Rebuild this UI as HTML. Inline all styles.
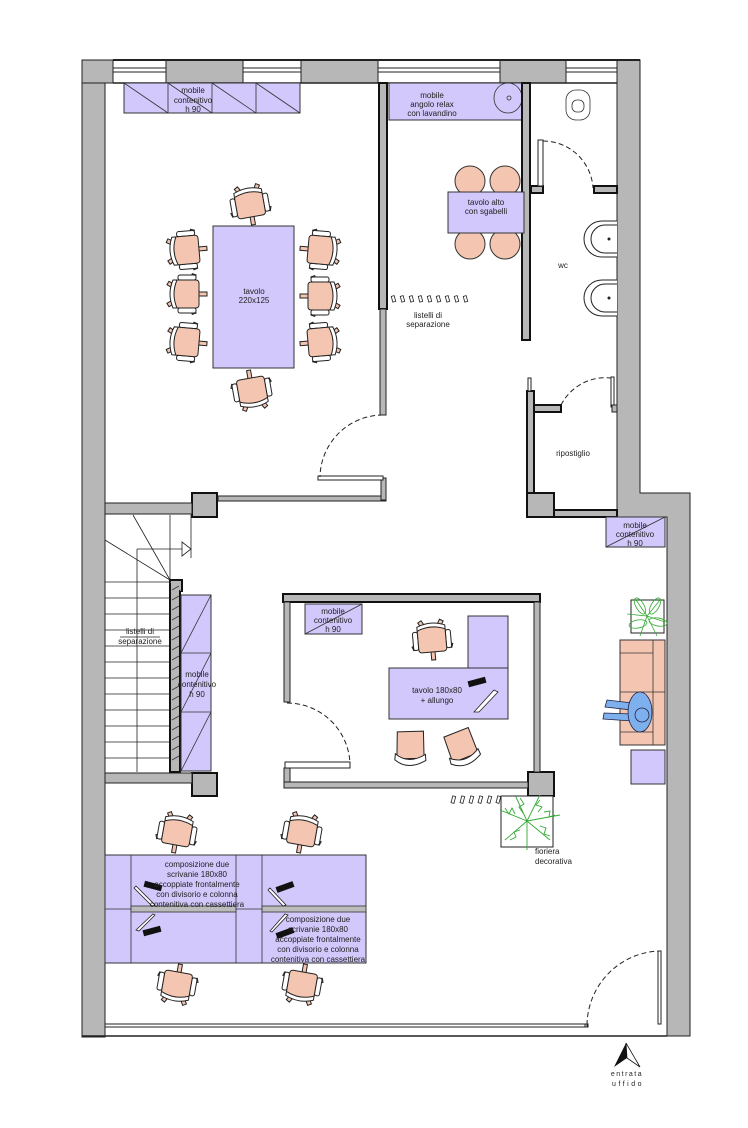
<!DOCTYPE html>
<html><head><meta charset="utf-8"><style>
html,body{margin:0;padding:0;background:#fff}
svg{display:block}
text{font-family:"Liberation Sans",sans-serif;font-size:8px;fill:#222}
</style></head><body>
<svg width="748" height="1128" viewBox="0 0 748 1128" xmlns="http://www.w3.org/2000/svg">
<defs>
<g id="ch">
 <g stroke="#222" stroke-width="1" fill="#f4c6b2">
  <rect x="-2" y="10" width="4" height="10"/>
  <rect x="-2" y="-22" width="4" height="8" transform="rotate(30)"/>
  <rect x="-2" y="-22" width="4" height="8" transform="rotate(-30)"/>
  <rect x="-2" y="12" width="4" height="9" transform="rotate(70)"/>
  <rect x="-2" y="12" width="4" height="9" transform="rotate(-70)"/>
  <rect x="-19" y="-9" width="5" height="18" rx="2" fill="#fff"/>
  <rect x="14" y="-9" width="5" height="18" rx="2" fill="#fff"/>
  <rect x="-14" y="-13" width="28" height="25" rx="3"/>
  <path d="M-14,-10 Q0,-16 14,-10 L14,-14 Q0,-20 -14,-14Z" fill="#fff"/>
 </g>
</g>
<g id="gc">
 <g stroke="#222" stroke-width="1" fill="#f4c6b2">
  <path d="M-14,-14 L12,-17 L15,10 L-12,13Z"/>
  <path d="M-14,8 Q0,18 16,6 L17,12 Q0,24 -14,14Z" fill="#fff"/>
 </g>
</g>
</defs>

<!-- outer walls -->
<g fill="#b7b7b7" stroke="#222" stroke-width="1">
 <rect x="82" y="60" width="23" height="977"/>
 <rect x="82" y="60" width="31" height="23"/>
 <rect x="166" y="60" width="77" height="23"/>
 <rect x="301" y="60" width="77" height="23"/>
 <rect x="500" y="60" width="66" height="23"/>
 <polygon points="617,60 640,60 640,493 690,493 690,1036 667,1036 667,517 617,517"/>
</g>
<g stroke="#222" stroke-width="1" fill="none">
 <line x1="113" y1="60" x2="640" y2="60" stroke-width="2"/>
 <line x1="113" y1="68" x2="166" y2="68"/><line x1="113" y1="72" x2="166" y2="72"/>
 <line x1="243" y1="68" x2="301" y2="68"/><line x1="243" y1="72" x2="301" y2="72"/>
 <line x1="378" y1="68" x2="500" y2="68"/><line x1="378" y1="72" x2="500" y2="72"/>
 <line x1="566" y1="68" x2="617" y2="68"/><line x1="566" y1="72" x2="617" y2="72"/>
 <line x1="113" y1="83" x2="617" y2="83" stroke-width="1.5"/>
 <line x1="82" y1="1036" x2="667" y2="1036" stroke-width="1.5"/>
 <rect x="105" y="1024" width="482" height="3" fill="#fff"/>
 <rect x="585" y="1024" width="3" height="3"/>
 <rect x="658" y="951" width="3" height="73" fill="#fff"/>
 <path d="M587,1025 A75,75 0 0 1 659,951" stroke-dasharray="5,3"/>
</g>

<!-- top cabinets -->
<g fill="#d2c8fb" stroke="#333" stroke-width="1">
 <rect x="124" y="83" width="176" height="30"/>
 <rect x="389" y="83" width="135" height="37"/>
</g>
<g stroke="#333" stroke-width="0.8" fill="none">
 <line x1="168" y1="83" x2="168" y2="113"/><line x1="212" y1="83" x2="212" y2="113"/><line x1="256" y1="83" x2="256" y2="113"/>
 <line x1="124" y1="83" x2="168" y2="113"/><line x1="168" y1="83" x2="212" y2="113"/><line x1="212" y1="83" x2="256" y2="113"/><line x1="256" y1="83" x2="300" y2="113"/>
 <ellipse cx="508" cy="98" rx="14" ry="15"/><circle cx="509" cy="98" r="2"/>
 <rect x="566" y="90" width="24" height="30" rx="10" fill="#fff"/>
 <rect x="572" y="100" width="12" height="12" rx="5"/>
</g>
<text x="193" y="93" text-anchor="middle">mobile</text>
<text x="193" y="103" text-anchor="middle">contenitivo</text>
<text x="193" y="112" text-anchor="middle">h 90</text>
<text x="432" y="98" text-anchor="middle">mobile</text>
<text x="432" y="107" text-anchor="middle">angolo relax</text>
<text x="432" y="116" text-anchor="middle">con lavandino</text>

<!-- interior walls -->
<g fill="#b7b7b7" stroke="#111" stroke-width="2">
 <rect x="379" y="83" width="8" height="226"/>
 <rect x="522" y="83" width="8" height="257"/>
 <rect x="192" y="493" width="25" height="24"/>
 <rect x="192" y="773" width="25" height="23"/>
 <rect x="527" y="391" width="7" height="126"/>
 <rect x="527" y="493" width="27" height="24"/>
 <rect x="528" y="772" width="26" height="24"/>
 <rect x="534" y="405" width="27" height="7"/>
 <rect x="531" y="186" width="12" height="7"/>
 <rect x="594" y="186" width="23" height="7"/>
 <rect x="554" y="510" width="63" height="7"/>
 <rect x="283" y="594" width="257" height="8"/>
</g>
<g fill="#b7b7b7" stroke="#222" stroke-width="1">
 <rect x="105" y="503" width="87" height="11"/>
 <rect x="105" y="773" width="87" height="10"/>
 <rect x="380" y="309" width="6" height="106"/>
 <rect x="218" y="496" width="168" height="5"/>
 <rect x="381" y="478" width="5" height="22"/>
 <rect x="318" y="476" width="65" height="4" fill="#fff"/>
 <rect x="284" y="602" width="6" height="100"/>
 <rect x="285" y="762" width="65" height="6" fill="#fff"/>
 <rect x="284" y="768" width="6" height="20"/>
 <rect x="284" y="782" width="244" height="6"/>
 <rect x="534" y="602" width="6" height="170"/>
 <rect x="538" y="140" width="5" height="46" fill="#fff"/>
 <rect x="611" y="377" width="3" height="30" fill="#fff"/>
 <rect x="612" y="405" width="5" height="7"/>
 <rect x="528" y="378" width="3" height="13" fill="#fff"/>
</g>
<g stroke="#222" stroke-width="1" fill="none" stroke-dasharray="5,3">
 <path d="M383,415 A63,63 0 0 0 320,477"/>
 <path d="M543,141 A50,50 0 0 1 593,188"/>
 <path d="M561,405 A50,50 0 0 1 611,378"/>
 <path d="M287,703 A63,63 0 0 1 350,764"/>
</g>

<!-- conference table -->
<rect x="213" y="226" width="81" height="142" fill="#d2c8fb" stroke="#333"/>
<text x="254" y="294" text-anchor="middle">tavolo</text>
<text x="254" y="303" text-anchor="middle">220x125</text>
<use href="#ch" transform="translate(250,205) rotate(-10)"/>
<use href="#ch" transform="translate(252,390) rotate(170)"/>
<use href="#ch" transform="translate(187,250) rotate(-95)"/>
<use href="#ch" transform="translate(187,294) rotate(-90)"/>
<use href="#ch" transform="translate(187,342) rotate(-85)"/>
<use href="#ch" transform="translate(320,250) rotate(95)"/>
<use href="#ch" transform="translate(320,296) rotate(90)"/>
<use href="#ch" transform="translate(320,342) rotate(85)"/>

<!-- high table -->
<g fill="#f4c6b2" stroke="#333">
 <circle cx="470" cy="181" r="15"/><circle cx="505" cy="181" r="15"/>
 <circle cx="470" cy="244" r="15"/><circle cx="505" cy="244" r="15"/>
</g>
<rect x="448" y="192" width="76" height="41" fill="#d2c8fb" stroke="#333"/>
<text x="486" y="205" text-anchor="middle">tavolo alto</text>
<text x="486" y="214" text-anchor="middle">con sgabelli</text>

<!-- slats -->
<g fill="#fff" stroke="#222" stroke-width="0.8">
 <rect x="392" y="296" width="3" height="6" transform="rotate(-15 393 299)"/>
 <rect x="401" y="296" width="3" height="6" transform="rotate(-15 402 299)"/>
 <rect x="410" y="296" width="3" height="6" transform="rotate(-15 411 299)"/>
 <rect x="419" y="296" width="3" height="6" transform="rotate(-15 420 299)"/>
 <rect x="428" y="296" width="3" height="6" transform="rotate(-15 429 299)"/>
 <rect x="437" y="296" width="3" height="6" transform="rotate(-15 438 299)"/>
 <rect x="446" y="296" width="3" height="6" transform="rotate(-15 447 299)"/>
 <rect x="455" y="296" width="3" height="6" transform="rotate(-15 456 299)"/>
 <rect x="464" y="296" width="3" height="6" transform="rotate(-15 465 299)"/>
 <rect x="452" y="796" width="3" height="7" transform="rotate(15 453 799)"/>
 <rect x="461" y="796" width="3" height="7" transform="rotate(15 462 799)"/>
 <rect x="470" y="796" width="3" height="7" transform="rotate(15 471 799)"/>
 <rect x="479" y="796" width="3" height="7" transform="rotate(15 480 799)"/>
 <rect x="488" y="796" width="3" height="7" transform="rotate(15 489 799)"/>
 <rect x="497" y="796" width="3" height="7" transform="rotate(15 498 799)"/>
</g>
<text x="428" y="318" text-anchor="middle">listelli di</text>
<text x="428" y="327" text-anchor="middle">separazione</text>

<!-- wc -->
<g fill="#fff" stroke="#222" stroke-width="1">
 <path d="M617,221 L602,221 A18,18 0 0 0 602,257 L617,257"/>
 <path d="M617,225 L605,225 A13,13 0 0 0 605,253 L617,253"/>
 <path d="M617,280 L602,280 A18,18 0 0 0 602,316 L617,316"/>
 <path d="M617,284 L605,284 A13,13 0 0 0 605,312 L617,312"/>
</g>
<circle cx="609" cy="239" r="1.5" fill="#222"/><circle cx="609" cy="298" r="1.5" fill="#222"/>
<text x="563" y="268" text-anchor="middle">wc</text>
<text x="573" y="456" text-anchor="middle">ripostiglio</text>

<!-- right cabinet -->
<rect x="606" y="517" width="59" height="30" fill="#d2c8fb" stroke="#333"/>
<line x1="606" y1="547" x2="665" y2="517" stroke="#333" stroke-width="0.8"/>
<text x="635" y="528" text-anchor="middle">mobile</text>
<text x="635" y="537" text-anchor="middle">contenitivo</text>
<text x="635" y="546" text-anchor="middle">h 90</text>

<!-- stairs -->
<g stroke="#222" stroke-width="0.8" fill="none">
 <line x1="105" y1="582" x2="170" y2="582"/><line x1="105" y1="598" x2="170" y2="598"/>
 <line x1="105" y1="614" x2="170" y2="614"/><line x1="105" y1="630" x2="170" y2="630"/>
 <line x1="105" y1="646" x2="170" y2="646"/><line x1="105" y1="662" x2="170" y2="662"/>
 <line x1="105" y1="678" x2="170" y2="678"/><line x1="105" y1="694" x2="170" y2="694"/>
 <line x1="105" y1="710" x2="170" y2="710"/><line x1="105" y1="726" x2="170" y2="726"/>
 <line x1="105" y1="742" x2="170" y2="742"/><line x1="105" y1="758" x2="170" y2="758"/>
 <line x1="137" y1="549" x2="137" y2="772"/>
 <line x1="170" y1="515" x2="170" y2="582"/>
 <line x1="191" y1="515" x2="191" y2="558"/>
 <line x1="133" y1="515" x2="170" y2="580"/>
 <line x1="105" y1="540" x2="170" y2="580"/>
 <line x1="137" y1="549" x2="182" y2="549"/>
 <path d="M182,542 L191,549 L182,556Z" fill="#fff"/>
 <line x1="120" y1="637" x2="160" y2="637"/>
</g>
<text x="140" y="634" text-anchor="middle">listelli di</text>
<text x="140" y="644" text-anchor="middle">separazione</text>
<rect x="170" y="582" width="10" height="190" fill="#b7b7b7" stroke="#111" stroke-width="2"/>
<path d="M170,582 L170,580 L182,580 L182,592" fill="#b7b7b7" stroke="#111" stroke-width="2"/>
<g stroke="#333" stroke-width="0.8">
 <line x1="172" y1="590" x2="179" y2="586"/><line x1="172" y1="600" x2="179" y2="596"/><line x1="172" y1="610" x2="179" y2="606"/>
 <line x1="172" y1="620" x2="179" y2="616"/><line x1="172" y1="630" x2="179" y2="626"/><line x1="172" y1="640" x2="179" y2="636"/>
 <line x1="172" y1="650" x2="179" y2="646"/><line x1="172" y1="660" x2="179" y2="656"/><line x1="172" y1="670" x2="179" y2="666"/>
 <line x1="172" y1="680" x2="179" y2="676"/><line x1="172" y1="690" x2="179" y2="686"/><line x1="172" y1="700" x2="179" y2="696"/>
 <line x1="172" y1="710" x2="179" y2="706"/><line x1="172" y1="720" x2="179" y2="716"/><line x1="172" y1="730" x2="179" y2="726"/>
 <line x1="172" y1="740" x2="179" y2="736"/><line x1="172" y1="750" x2="179" y2="746"/><line x1="172" y1="760" x2="179" y2="756"/>
</g>
<rect x="181" y="595" width="30" height="176" fill="#d2c8fb" stroke="#333"/>
<g stroke="#333" stroke-width="0.8">
 <line x1="181" y1="653" x2="211" y2="653"/><line x1="181" y1="712" x2="211" y2="712"/>
 <line x1="181" y1="653" x2="211" y2="595"/><line x1="181" y1="712" x2="211" y2="653"/><line x1="181" y1="771" x2="211" y2="712"/>
</g>
<text x="197" y="677" text-anchor="middle">mobile</text>
<text x="197" y="687" text-anchor="middle">contenitivo</text>
<text x="197" y="697" text-anchor="middle">h 90</text>

<!-- office -->
<rect x="305" y="604" width="57" height="30" fill="#d2c8fb" stroke="#333"/>
<line x1="305" y1="634" x2="362" y2="604" stroke="#333" stroke-width="0.8"/>
<text x="333" y="614" text-anchor="middle">mobile</text>
<text x="333" y="623" text-anchor="middle">contenitivo</text>
<text x="333" y="632" text-anchor="middle">h 90</text>
<use href="#ch" transform="translate(432,640) rotate(-5)"/>
<rect x="468" y="616" width="40" height="52" fill="#d2c8fb" stroke="#333"/>
<rect x="389" y="668" width="119" height="51" fill="#d2c8fb" stroke="#333"/>
<text x="437" y="693" text-anchor="middle">tavolo 180x80</text>
<text x="437" y="703" text-anchor="middle">+      allungo</text>
<rect x="468" y="679" width="18" height="6" fill="#111" transform="rotate(-15 477 682)"/>
<path d="M474,712 L494,690 L498,692 L479,712Z" fill="#fff" stroke="#222" stroke-width="0.8"/>
<use href="#gc" transform="translate(410,747) rotate(5)"/>
<use href="#gc" transform="translate(461,747) rotate(-15)"/>

<!-- lounge -->
<rect x="631" y="600" width="33" height="33" fill="#fff" stroke="#222"/>
<g stroke="#3a3" stroke-width="0.8" fill="none">
 <path d="M647,616 L636,600 M647,616 L660,600 M647,616 L665,622 M647,616 L640,636 M647,616 L627,614 M647,616 L657,636"/>
 <ellipse cx="640" cy="606" rx="4" ry="9" transform="rotate(-30 640 606)"/>
 <ellipse cx="655" cy="606" rx="4" ry="9" transform="rotate(30 655 606)"/>
 <ellipse cx="658" cy="622" rx="4" ry="9" transform="rotate(100 658 622)"/>
 <ellipse cx="638" cy="624" rx="4" ry="9" transform="rotate(-100 638 624)"/>
</g>
<rect x="620" y="640" width="45" height="105" fill="#f4c6b2" stroke="#333"/>
<g stroke="#333" stroke-width="0.8"><line x1="653" y1="640" x2="653" y2="745"/><line x1="620" y1="653" x2="653" y2="653"/><line x1="620" y1="732" x2="653" y2="732"/><line x1="620" y1="692" x2="665" y2="692"/></g>
<g fill="#7fb0ee" stroke="#224" stroke-width="0.8">
 <path d="M607,700 L632,703 L632,710 L605,707Z"/>
 <path d="M604,713 L632,714 L632,721 L603,719Z"/>
 <ellipse cx="640" cy="712" rx="12" ry="20"/>
 <circle cx="642" cy="715" r="7"/>
</g>
<rect x="631" y="750" width="34" height="34" fill="#d2c8fb" stroke="#333"/>

<!-- planter -->
<rect x="501" y="796" width="52" height="51" fill="#fff" stroke="#222"/>
<g stroke="#3a3" stroke-width="0.9" fill="none">
 <path d="M527,821 L500,810 M527,821 L515,795 M527,821 L540,795 M527,821 L560,815 M527,821 L550,840 M527,821 L527,850 M527,821 L505,840"/>
 <path d="M505,808 l4,6 l3,-6 l3,6 M540,800 l-4,5 l6,2 l-4,5 M550,836 l-6,-2 l2,-6 l-6,-2 M510,840 l6,-3 l-2,-5 l6,-2 M520,798 l4,6 l-5,3 l4,6 M555,815 l-6,2 l1,-6 l-6,1"/>
</g>
<text x="535" y="854">fioriera</text>
<text x="535" y="864">decorativa</text>

<!-- bottom desks -->
<rect x="105" y="855" width="261" height="108" fill="#d2c8fb" stroke="#333"/>
<g stroke="#333" stroke-width="0.8" fill="none">
 <line x1="131" y1="855" x2="131" y2="963"/><line x1="236" y1="855" x2="236" y2="963"/><line x1="262" y1="855" x2="262" y2="963"/>
 <line x1="105" y1="909" x2="366" y2="909"/>
 <rect x="131" y="906" width="105" height="6" fill="#bbb"/>
 <rect x="262" y="906" width="104" height="6" fill="#bbb"/>
</g>
<g fill="#111">
 <rect x="144" y="883" width="18" height="6" transform="rotate(15 153 886)"/>
 <rect x="276" y="884" width="18" height="6" transform="rotate(-20 285 887)"/>
 <rect x="143" y="928" width="18" height="6" transform="rotate(-15 152 931)"/>
 <rect x="276" y="930" width="18" height="6" transform="rotate(-20 285 933)"/>
</g>
<g fill="#fff" stroke="#222" stroke-width="0.8">
 <path d="M136,886 L155,905 L152,906 L134,888Z"/>
 <path d="M270,888 L286,905 L283,906 L268,890Z"/>
 <path d="M136,930 L153,914 L155,915 L139,931Z"/>
 <path d="M270,931 L285,914 L288,915 L272,932Z"/>
</g>
<g text-anchor="middle">
 <text x="197" y="867">composizione due</text>
 <text x="197" y="877">scrivanie 180x80</text>
 <text x="197" y="887">accoppiate frontalmente</text>
 <text x="197" y="897">con divisorio e colonna</text>
 <text x="197" y="907">contenitiva con cassettiera</text>
 <text x="318" y="922">composizione due</text>
 <text x="318" y="932">scrivanie 180x80</text>
 <text x="318" y="942">accoppiate frontalmente</text>
 <text x="318" y="952">con divisorio e colonna</text>
 <text x="318" y="962">contenitiva con cassettiera</text>
</g>
<use href="#ch" transform="translate(177,833) rotate(10)"/>
<use href="#ch" transform="translate(302,833) rotate(10)"/>
<use href="#ch" transform="translate(177,984) rotate(190)"/>
<use href="#ch" transform="translate(302,984) rotate(190)"/>

<!-- entrance -->
<path d="M626,1043 L614,1067 L627,1058Z" fill="#111"/>
<path d="M626,1043 L640,1067 L627,1058Z" fill="#fff" stroke="#111" stroke-width="0.8"/>
<text x="627" y="1076" text-anchor="middle" style="font-size:7px;letter-spacing:1.5px">entrata</text>
<text x="628" y="1086" text-anchor="middle" style="font-size:7px;letter-spacing:2.5px">uffido</text>
</svg>
</body></html>
